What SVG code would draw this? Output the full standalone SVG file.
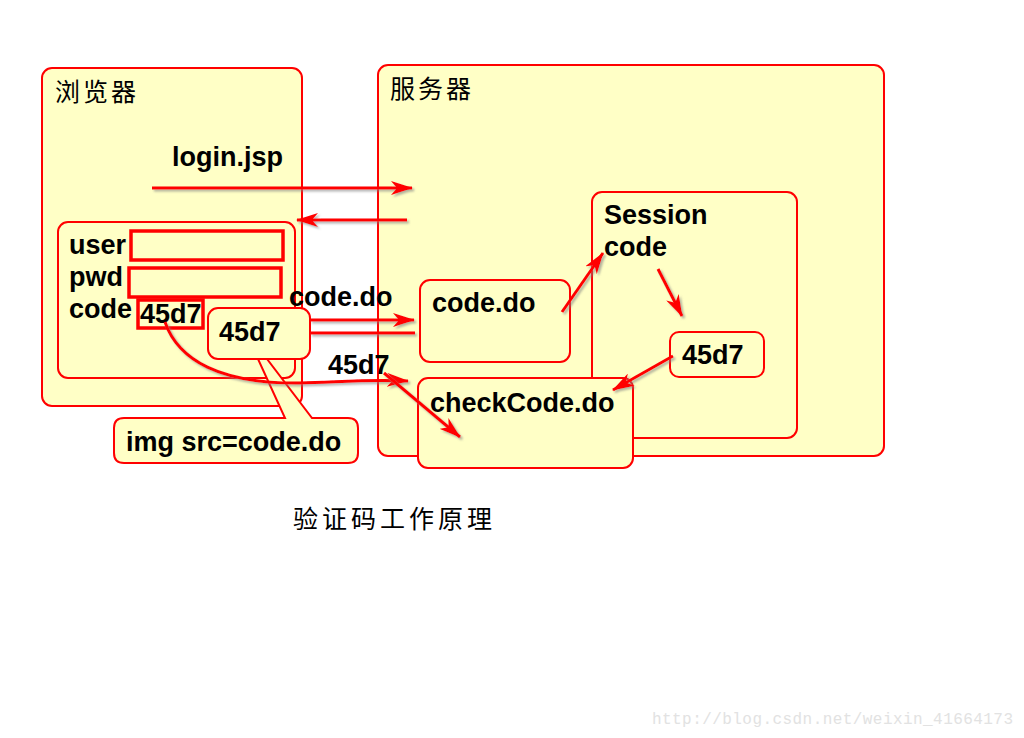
<svg xmlns="http://www.w3.org/2000/svg" width="1024" height="738" viewBox="0 0 1024 738">
<style>
.box{fill:#ffffc6;stroke:#ff0000;stroke-width:2}
.inp{fill:none;stroke:#ff0000;stroke-width:3.5}
.t{font-family:"Liberation Sans",Arial,sans-serif;font-weight:bold;font-size:27px;fill:#000}
.cn{font-family:"Noto Sans CJK SC",sans-serif;font-size:25px;fill:#000;letter-spacing:3px}
.ar{fill:none;stroke:#ff0000;stroke-width:3;filter:url(#sh)}
</style>
<defs>
<filter id="sh" filterUnits="userSpaceOnUse" x="0" y="0" width="1024" height="738">
<feDropShadow dx="2" dy="2" stdDeviation="1" flood-color="#808080" flood-opacity="0.6"/>
</filter>
<marker id="ah" viewBox="0 0 22 14" refX="21" refY="7" markerWidth="22" markerHeight="14" orient="auto" markerUnits="userSpaceOnUse">
<path d="M0,0 L22,7 L0,14 L6,7 z" fill="#ff0000"/>
</marker>
</defs>
<rect width="1024" height="738" fill="#ffffff"/>

<g id="browser">
<rect class="box" x="42" y="68" width="260" height="338" rx="10"/>
<text class="cn" x="55" y="101">浏览器</text>
</g>
<g id="server">
<rect class="box" x="378" y="65" width="506" height="391" rx="10"/>
<text class="cn" x="390" y="98">服务器</text>
</g>
<g id="form">
<rect class="box" x="58" y="222" width="237" height="156" rx="10"/>
<text class="t" x="69" y="254">user</text>
<text class="t" x="69" y="286">pwd</text>
<text class="t" x="69" y="318">code</text>
<rect class="inp" x="131" y="231" width="152" height="29"/>
<rect class="inp" x="129" y="268" width="152" height="29"/>
<rect class="inp" x="138" y="300" width="65" height="28"/>
<text class="t" x="140" y="323">45d7</text>
</g>
<g id="session">
<rect class="box" x="592" y="192" width="205" height="246" rx="10"/>
<text class="t" x="604" y="224">Session</text>
<text class="t" x="604" y="256">code</text>
</g>
<g id="sessioncode">
<rect class="box" x="670" y="332" width="94" height="45" rx="9"/>
<text class="t" x="682" y="364">45d7</text>
</g>
<g id="codedo">
<rect class="box" x="420" y="280" width="150" height="82" rx="10"/>
<text class="t" x="432" y="312">code.do</text>
</g>
<g id="checkcode">
<rect class="box" x="418" y="378" width="215" height="90" rx="10"/>
<text class="t" x="430" y="412">checkCode.do</text>
</g>
<g id="imgcallout">
<path class="box" d="M124,418 L285,418 L258,359 L267,359 L312,418 L348,418 Q358,418 358,428 L358,453 Q358,463 348,463 L124,463 Q114,463 114,453 L114,428 Q114,418 124,418 Z"/>
<text class="t" x="126" y="451">img src=code.do</text>
</g>
<g id="image45d7">
<rect class="box" x="208" y="308" width="102" height="51" rx="10"/>
<text class="t" x="219" y="341">45d7</text>
</g>

<g id="connectors">
<line class="ar" x1="152" y1="188" x2="412" y2="188" marker-end="url(#ah)"/>
<line class="ar" x1="407" y1="220" x2="297" y2="220" marker-end="url(#ah)"/>
<line class="ar" x1="310" y1="320" x2="414" y2="320" marker-end="url(#ah)"/>
<line class="ar" x1="310" y1="333" x2="415" y2="333"/>
<path class="ar" d="M165,322 C178,360 220,384 300,383 C340,382 370,379 408,381" marker-end="url(#ah)"/>
<line class="ar" x1="384" y1="373" x2="460" y2="437" marker-end="url(#ah)"/>
<line class="ar" x1="562" y1="312" x2="603" y2="253" marker-end="url(#ah)"/>
<line class="ar" x1="658" y1="269" x2="682" y2="316" marker-end="url(#ah)"/>
<line class="ar" x1="673" y1="356" x2="613" y2="390" marker-end="url(#ah)"/>
</g>

<g id="labels">
<text class="t" x="172" y="166">login.jsp</text>
<text class="t" x="289" y="306">code.do</text>
<text class="t" x="328" y="374">45d7</text>
<text class="cn" x="293" y="528" style="letter-spacing:4px">验证码工作原理</text>
<text x="652" y="724" font-family="'Liberation Mono',monospace" font-size="16" fill="#e2e2e2" textLength="361">http://blog.csdn.net/weixin_41664173</text>
</g>
</svg>
